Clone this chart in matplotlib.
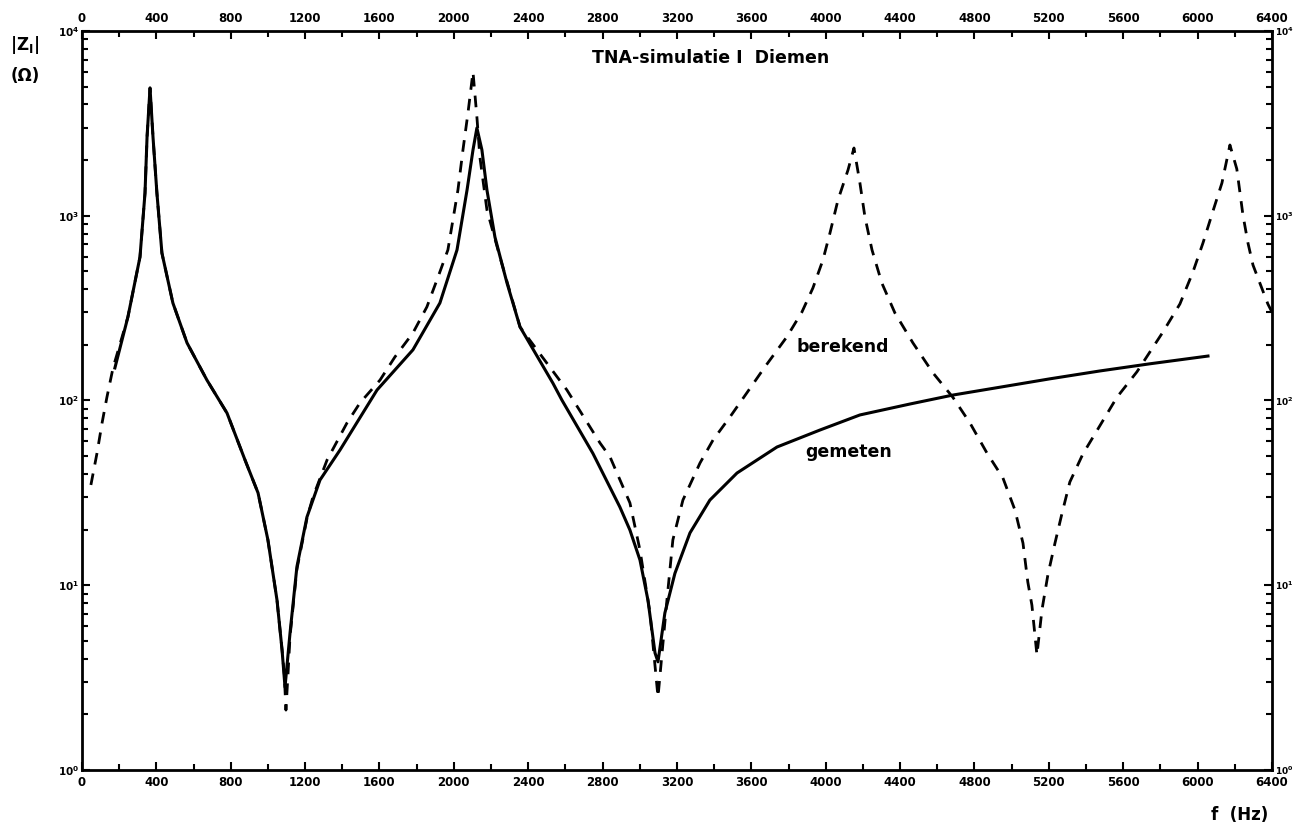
import numpy as np
import matplotlib
matplotlib.use("Agg")
import matplotlib.pyplot as plt
from matplotlib.ticker import MultipleLocator, LogLocator, NullFormatter

f_gemeten = [177, 247, 312, 339, 350, 366, 382, 403, 430, 489, 565, 672, 780, 877,
             947, 1000, 1049, 1076, 1092, 1119, 1156, 1210, 1280, 1388, 1587,
             1780, 1925, 2017, 2071, 2103, 2124, 2151, 2178, 2221, 2286, 2356, 2533,
             2581, 2748, 2893, 2947, 3001, 3044, 3082, 3098, 3135, 3189, 3270, 3377,
             3523, 3738, 3969, 4184, 4453, 4684, 4937, 5206, 5475, 5744, 6056]
z_gemeten = [150, 283, 598, 1328, 2667, 4914, 2667, 1328, 628, 337, 205, 129, 85.5, 47.6,
             31.6, 17.6, 8.3, 4.47, 2.81, 5.52, 12.6, 23.4, 37.1, 54, 114,
             188, 337, 653, 1378, 2270, 2985, 2270, 1378, 767, 432, 250, 124,
             100.6, 51.7, 26.5, 19.9, 13.7, 8.3, 4.3, 3.85, 7.08, 11.6, 19.2, 28.9,
             40.5, 56, 69.2, 83.5, 95.7, 107, 118, 131, 144.5, 158, 174]

# berekend (calculated, TNA simulation)
f_berekend = [48, 81, 108, 134, 167, 247, 312, 339, 350, 366, 382, 403, 430, 489, 565,
              672, 780, 877, 947, 1000, 1049, 1076, 1088, 1097, 1108, 1119, 1156, 1210,
              1242, 1318, 1425, 1495, 1603, 1683, 1780, 1855, 1915, 1968, 2022, 2049,
              2076, 2103, 2124, 2140, 2178, 2248, 2356, 2447, 2608, 2786, 2840, 2947,
              3001, 3055, 3098, 3146, 3178, 3232, 3324, 3394, 3485, 3576, 3673, 3791,
              3872, 3931, 3985, 4023, 4066, 4120, 4152, 4184, 4211, 4249, 4302, 4372,
              4469, 4577, 4684, 4776, 4867, 4953, 5018, 5061, 5087, 5109, 5136, 5163,
              5195, 5233, 5270, 5313, 5383, 5464, 5566, 5674, 5814, 5905, 5975, 6029,
              6083, 6131, 6174, 6211, 6244, 6271, 6298, 6335, 6378, 6400]
z_berekend = [34.9, 52, 75.5, 104, 150, 283, 598, 1328, 2667, 4914, 2667, 1328, 628, 337, 205,
              129, 85.5, 47.6, 31.6, 17.6, 8.3, 4.47, 3.3, 2.11, 3.3, 5.3, 12.2, 23,
              30, 47.6, 75.5, 97, 129, 172, 232, 321, 466, 653, 1378, 2270,
              3600, 6000, 3424, 2080, 1075, 598, 250, 188, 114, 58.9, 49.5, 27.9,
              15.5, 7.08, 2.48, 8.3, 17.6, 28.9, 45.9, 61.1, 81.4, 110, 152, 221,
              301, 406, 576, 807, 1217, 1769, 2326, 1504, 985, 653, 432, 298,
              205, 141, 104, 75.5, 52, 38.1, 25.5, 16.9, 10.4, 7.8, 4.19, 7.35,
              11.4, 16.9, 24.3, 36.2, 51.3, 70.1, 104, 143, 235, 333, 496, 712,
              1061, 1504, 2415, 1791, 1009, 712, 541, 432, 333, 301]

fig = plt.figure(figsize=(12.95, 8.26), dpi=100)
ax = fig.add_axes([0.0633, 0.0678, 0.9189, 0.8947])

ax.plot(f_berekend, z_berekend, color="black", lw=2.0, ls=(0, (4.2, 3.3)))
ax.plot(f_gemeten, z_gemeten, color="black", lw=2.2)

ax.set_yscale("log")
ax.set_xlim(0, 6400)
ax.set_ylim(1, 1e4)

ax.xaxis.set_major_locator(MultipleLocator(400))
ax.xaxis.set_minor_locator(MultipleLocator(200))
ax.yaxis.set_major_locator(LogLocator(base=10))
ax.yaxis.set_minor_locator(LogLocator(base=10, subs=np.arange(2, 10)))
ax.yaxis.set_minor_formatter(NullFormatter())

# ticks inward on all four sides, labels on all four sides
ax.tick_params(which="both", direction="in", top=True, right=True,
               labeltop=True, labelright=True, width=1.5)
ax.tick_params(which="major", length=6, labelsize=8.5, pad=4)
ax.tick_params(which="minor", length=4)
ax.tick_params(axis="y", which="major", labelsize=7.5, pad=2)
for lab in ax.get_xticklabels() + ax.get_yticklabels():
    lab.set_fontweight("bold")
for t in ax.yaxis.get_major_ticks():
    t.label2.set_fontsize(6.5)
for side in ax.spines.values():
    side.set_linewidth(2)

ax.text(0.528, 0.963, "TNA-simulatie I  Diemen", transform=ax.transAxes,
        ha="center", va="center", fontsize=12.5, fontweight="bold")
ax.text(0.639, 0.572, "berekend", transform=ax.transAxes,
        ha="center", va="center", fontsize=12.5, fontweight="bold")
ax.text(0.644, 0.430, "gemeten", transform=ax.transAxes,
        ha="center", va="center", fontsize=12.5, fontweight="bold")

fig.text(0.008, 0.945, r"|Z$_\mathbf{I}$|", fontsize=12, fontweight="bold", va="center")
fig.text(0.008, 0.908, "(Ω)", fontsize=12, fontweight="bold", va="center")
fig.text(0.957, 0.013, "f  (Hz)", fontsize=12, fontweight="bold", ha="center", va="center")

fig.savefig("out.png", dpi=100)
